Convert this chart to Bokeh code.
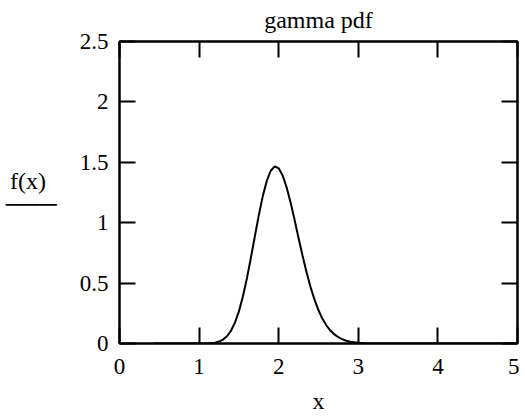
from bokeh.plotting import figure
from bokeh.models import LinearAxis, FixedTicker, Range1d
from bokeh.embed import file_html
from bokeh.resources import INLINE

# curve values
x_vals = [0.42, 1.0, 1.1, 1.2, 1.25, 1.3, 1.35, 1.4, 1.45, 1.5, 1.55, 1.6, 1.65, 1.7,
          1.75, 1.8, 1.85, 1.9, 1.95, 2.0, 2.05, 2.1, 2.15, 2.2, 2.25, 2.3, 2.35, 2.4,
          2.45, 2.5, 2.55, 2.6, 2.65, 2.7, 2.75, 2.8, 2.85, 2.9, 2.95, 3.0, 3.1, 3.2,
          3.4, 5.0]
f_vals = [0.0, 0.0001, 0.001, 0.007, 0.016, 0.032, 0.060, 0.105, 0.172, 0.266, 0.389,
          0.537, 0.708, 0.886, 1.063, 1.220, 1.346, 1.430, 1.466, 1.450, 1.390, 1.291,
          1.166, 1.022, 0.872, 0.727, 0.590, 0.468, 0.363, 0.275, 0.204, 0.149, 0.107,
          0.075, 0.052, 0.035, 0.023, 0.015, 0.010, 0.006, 0.002, 0.001, 0.0, 0.0]

x_ticks = [0, 1, 2, 3, 4, 5]
x_tick_labels = ["0", "1", "2", "3", "4", "5"]
y_ticks = [0, 0.5, 1, 1.5, 2, 2.5]
y_tick_labels = ["0", "0.5", "1", "1.5", "2", "2.5"]

FONT = "Liberation Serif"
FS = "23px"

p = figure(width=519, height=416, x_range=Range1d(0, 5), y_range=Range1d(0, 2.5),
           output_backend="svg", toolbar_location=None, title=None,
           min_border_left=119, min_border_right=2, min_border_top=41, min_border_bottom=71)
p.grid.visible = False
p.outline_line_color = "black"
p.outline_line_width = 2
p.background_fill_color = "white"
p.border_fill_color = "white"


def style_axis(ax, ticks, labels, show_labels):
    ax.ticker = FixedTicker(ticks=ticks)
    ax.minor_tick_line_color = None
    ax.major_tick_in = 16
    ax.major_tick_out = 0
    ax.major_tick_line_width = 2
    ax.major_tick_line_color = "black"
    ax.axis_line_width = 2
    ax.axis_line_color = "black"
    ax.major_label_overrides = {t: l for t, l in zip(ticks, labels)}
    ax.major_label_text_font = FONT
    ax.major_label_text_font_size = FS
    ax.axis_label_text_font = FONT
    ax.axis_label_text_font_size = "24px"
    ax.axis_label_text_font_style = "normal"
    ax.axis_label_text_color = "black"
    if show_labels:
        ax.major_label_text_color = "black"
    else:
        ax.major_label_text_color = None
        ax.major_label_standoff = 0


style_axis(p.xaxis[0], x_ticks, x_tick_labels, True)
style_axis(p.yaxis[0], y_ticks, y_tick_labels, True)
p.xaxis[0].major_label_standoff = 15
p.yaxis[0].major_label_standoff = 11
p.xaxis[0].axis_label = "x"
p.xaxis[0].axis_label_standoff = 11

p.yaxis[0].axis_label = "f(x)\u00a0\u2009\n───"
p.yaxis[0].axis_label_orientation = "horizontal"
p.yaxis[0].axis_label_text_line_height = 0.9
p.yaxis[0].axis_label_standoff = 20

ax_right = LinearAxis()
style_axis(ax_right, y_ticks, y_tick_labels, False)
p.add_layout(ax_right, "right")

# chart title drawn as the label of the top axis
ax_top = LinearAxis(axis_label="gamma pdf")
style_axis(ax_top, x_ticks, x_tick_labels, False)
ax_top.axis_label_standoff = 9
p.add_layout(ax_top, "above")

p.line(x_vals, f_vals, line_color="black", line_width=2)

open("out.html", "w").write(file_html(p, INLINE))
